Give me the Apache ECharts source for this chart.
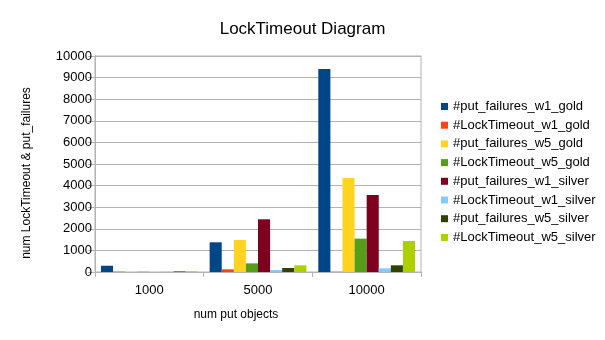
<!DOCTYPE html>
<html><head><meta charset="utf-8">
<script src="https://cdn.jsdelivr.net/npm/echarts@6/dist/echarts.min.js"></script>
<style>html,body{margin:0;padding:0;background:#fff}#c{width:605px;height:340px}</style>
</head><body><div id="c"></div>
<script>
const categories = ['1000', '5000', '10000'];
const seriesNames = ['#put_failures_w1_gold', '#LockTimeout_w1_gold', '#put_failures_w5_gold', '#LockTimeout_w5_gold', '#put_failures_w1_silver', '#LockTimeout_w1_silver', '#put_failures_w5_silver', '#LockTimeout_w5_silver'];
const putFailuresW1Gold = [290, 1375, 9400];
const lockTimeoutW1Gold = [15, 125, 10];
const putFailuresW5Gold = [0, 1480, 4350];
const lockTimeoutW5Gold = [10, 400, 1545];
const putFailuresW1Silver = [0, 2440, 3565];
const lockTimeoutW1Silver = [8, 90, 170];
const putFailuresW5Silver = [25, 185, 310];
const lockTimeoutW5Silver = [25, 310, 1435];
const seriesValues = [putFailuresW1Gold, lockTimeoutW1Gold, putFailuresW5Gold, lockTimeoutW5Gold, putFailuresW1Silver, lockTimeoutW1Silver, putFailuresW5Silver, lockTimeoutW5Silver];
const colors = ['#004586', '#ff420e', '#ffd320', '#579d1c', '#7e0021', '#83caff', '#314004', '#aecf00'];

const font = 'Liberation Sans';
const chart = echarts.init(document.getElementById('c'), null, {renderer: 'canvas'});
chart.setOption({
  animation: false,
  color: colors,
  title: {
    text: 'LockTimeout Diagram', left: 'center', top: 16,
    textStyle: {fontFamily: font, fontSize: 17, fontWeight: 'normal', color: '#000'}
  },
  legend: {
    orient: 'vertical', left: 436, top: 95,
    itemWidth: 7, itemHeight: 7, itemGap: 5.7,
    icon: 'rect',
    textStyle: {fontFamily: font, fontSize: 13, color: '#000', padding: [0, 0, 0, 0]},
    data: seriesNames
  },
  grid: {left: 95, top: 56, width: 326, height: 216, show: true, borderColor: '#b3b3b3', borderWidth: 1},
  xAxis: {
    type: 'category', data: categories,
    name: 'num put objects', nameLocation: 'middle', nameGap: 37,
    nameTextStyle: {fontFamily: font, fontSize: 12, color: '#000', padding: [0, 44, 0, 0]},
    axisLine: {lineStyle: {color: '#b3b3b3'}},
    axisTick: {show: true, length: 5, lineStyle: {color: '#b3b3b3'}},
    axisLabel: {fontFamily: font, fontSize: 13, color: '#000', margin: 12}
  },
  yAxis: {
    type: 'value', min: 0, max: 10000, interval: 1000,
    name: 'num LockTimeout & put_failures', nameLocation: 'middle', nameGap: 62,
    nameTextStyle: {fontFamily: font, fontSize: 12, color: '#000', padding: [0, 18, 0, 0]},
    axisLine: {show: true, lineStyle: {color: '#b3b3b3'}},
    axisTick: {show: true, length: 7, lineStyle: {color: '#b3b3b3'}},
    axisLabel: {fontFamily: font, fontSize: 13, color: '#000', margin: 3, formatter: v => String(v)},
    splitLine: {lineStyle: {color: '#b3b3b3'}}
  },
  series: seriesNames.map((n, i) => ({
    name: n, type: 'bar', data: seriesValues[i],
    barGap: '0%', barCategoryGap: '11%'
  }))
});
</script></body></html>
